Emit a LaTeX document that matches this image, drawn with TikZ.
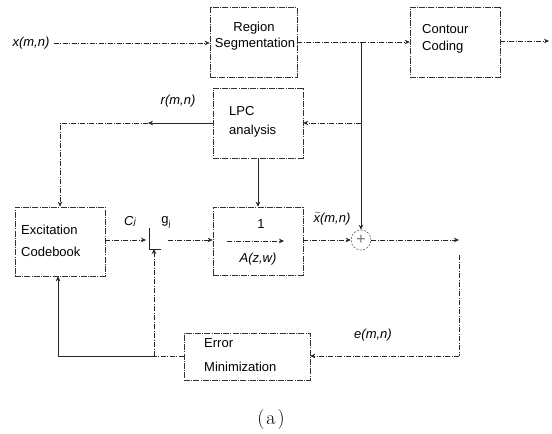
\documentclass[tikz,border=0pt]{standalone}
\usepackage{fontspec}
\setmainfont{Liberation Sans}
\newfontfamily\lmr{Latin Modern Roman}
\usetikzlibrary{arrows.meta}
\begin{document}
\begin{tikzpicture}[x=1pt,y=-1pt,
  dd/.style={line width=0.6pt, black!85, dash pattern=on 5pt off 1.5pt on 1pt off 1.5pt},
  sl/.style={line width=0.6pt, black!85},
  ar/.style={-{Stealth[length=5pt,width=4.5pt]}},
  blk/.style={draw=black!80, line width=0.6pt, dash pattern=on 6pt off 1.2pt on 1pt off 1.2pt, minimum width=#1, inner sep=0pt},
  btxt/.style={font=\fontsize{13}{15}\selectfont, inner sep=0pt, anchor=west},
  lbl/.style={font=\fontsize{13}{15}\selectfont\itshape, inner sep=0pt}]
\useasboundingbox (0,0) rectangle (552,434);
% blocks
\node[blk=87pt, minimum height=70pt] (seg) at (253.5,42) {};
\node[blk=90pt, minimum height=70pt] (cont) at (455,42) {};
\node[blk=90pt, minimum height=70pt] (lpc) at (258,123) {};
\node[blk=90pt, minimum height=69pt] (exc) at (60,241.5) {};
\node[blk=90pt, minimum height=68pt] (syn) at (258,241) {};
\node[blk=126pt, minimum height=47pt] (err) at (247,356.5) {};
\node[draw=black!70, dash pattern=on 2pt off 1.5pt, line width=0.5pt, circle, minimum size=20pt, inner sep=0pt] (add) at (361,240) {};
\node[font=\fontsize{16}{16}\selectfont, inner sep=0pt, text=black!55] (addsym) at (add.center) {+};
% block texts
\node[btxt, anchor=center] (segA) at (254,28) {Region};
\node[btxt, anchor=center] (segB) at (255,44) {Segmentation};
\node[btxt] (contA) at (422,29) {Contour};
\node[btxt] (contB) at (422,47) {Coding};
\node[btxt] (lpcA) at (229,111) {LPC};
\node[btxt] (lpcB) at (229,131) {analysis};
\node[btxt] (excA) at (21,230) {Excitation};
\node[btxt] (excB) at (21,252) {Codebook};
\node[btxt] (errA) at (204,343) {Error};
\node[btxt] (errB) at (204,367) {Minimization};
\node[btxt, anchor=center] (synA) at (261,224) {1};
\node[lbl] (synB) at (258,259) {A(z,w)};
\coordinate (fracL) at (227,241);
\coordinate (fracR) at (284,241);
\draw[dd,ar] (fracL) -- (fracR);
% labels
\node[lbl] (xin) at (31,43) {x(m,n)};
\node[lbl] (rlab) at (178,101) {r(m,n)};
\node[lbl] (clab) at (130,221) {C\kern0.3pt\raisebox{1pt}{\fontsize{9}{9}\selectfont j}};
\node[lbl, font=\fontsize{13}{15}\selectfont] (glab) at (166,222) {g\raisebox{-3pt}{\fontsize{8}{8}\selectfont j}};
\node[lbl, anchor=south] (xtl) at (332,225) {\ensuremath{\widetilde{\mbox{\itshape x\kern1.5pt}}}\kern-1.5pt(m,n)};
\node[lbl] (elab) at (373,335) {e(m,n)};
\node[font=\lmr\fontsize{20}{22}\selectfont, inner sep=0pt] (cap) at (271,420) {(\kern2pt a\kern2pt)};
% multiplier
\coordinate (mtop) at (149,228);
\coordinate (mbot) at (149,249);
\coordinate (mbr) at (161,249);
\coordinate (min) at (146,240);
\coordinate (mout) at (168,240);
\coordinate (mup) at (154,249);
\draw[sl] (mtop) -- (mbot) -- (mbr);
% coordinates
\coordinate (br1) at (seg.east -| add.north);
\coordinate (lpcL) at (60,123);
\coordinate (rmid) at (148,123);
\coordinate (eend) at (459,240);
\coordinate (etop) at (459,255);
\coordinate (ecor) at (459,356);
\coordinate (fb) at (154,356);
\coordinate (fbL) at (58,356);
\coordinate (outE) at (549,41);
% connectors
\draw[dd,ar] (xin.east) ++(4,0) -- (xin.east -| seg.west);
\draw[dd] (seg.east |- br1) -- (br1);
\draw[dd,ar] (br1) -- (br1 -| cont.west);
\draw[dd,ar] (cont.east |- outE) -- (outE);
\draw[sl,ar] (br1) -- (add.north);
\draw[dd,ar] (br1 |- lpc.east) -- (lpc.east);
\draw[sl,ar] (lpc.west) -- (rmid);
\draw[dd,ar] (rmid) -- (lpcL) -- (lpcL |- exc.north);
\draw[sl,ar] (lpc.south) -- (lpc.south |- syn.north);
\draw[dd,ar] (exc.east |- min) -- (min);
\draw[dd,ar] (mout) -- (mout -| syn.west);
\draw[dd,ar] (syn.east |- add.west) -- (add.west);
\draw[dd,ar] (add.east) -- (eend);
\draw[dd] (etop) -- (ecor);
\draw[dd,ar] (ecor) -- (ecor -| err.east);
\draw[dd] (err.west |- fb) -- (fb);
\draw[sl,ar] (fb) -- (fbL) -- (fbL |- exc.south);
\draw[dd,ar] (fb) -- (mup);
\end{tikzpicture}
\end{document}
